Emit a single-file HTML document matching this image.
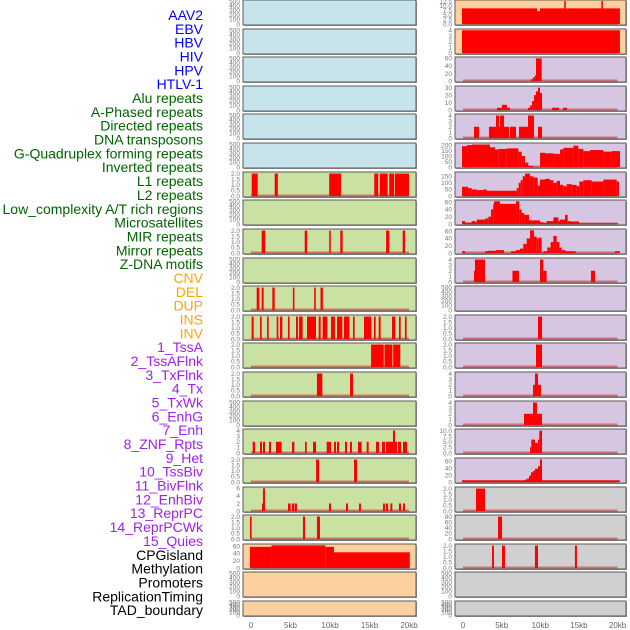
<!DOCTYPE html>
<html><head><meta charset="utf-8"><style>
html,body{margin:0;padding:0;background:#fff;width:630px;height:630px;overflow:hidden}
svg{display:block;font-family:"Liberation Sans",sans-serif}
</style></head><body>
<svg id="chart" width="630" height="630" viewBox="0 0 630 630"></svg>
<script>
// ---------- data ----------
const trackLabels = ["AAV2","EBV","HBV","HIV","HPV","HTLV-1","Alu repeats","A-Phased repeats","Directed repeats","DNA transposons","G-Quadruplex forming repeats","Inverted repeats","L1 repeats","L2 repeats","Low_complexity A/T rich regions","Microsatellites","MIR repeats","Mirror repeats","Z-DNA motifs","CNV","DEL","DUP","INS","INV","1_TssA","2_TssAFlnk","3_TxFlnk","4_Tx","5_TxWk","6_EnhG","7_Enh","8_ZNF_Rpts","9_Het","10_TssBiv","11_BivFlnk","12_EnhBiv","13_ReprPC","14_ReprPCWk","15_Quies","CPGisland","Methylation","Promoters","ReplicationTiming","TAD_boundary"];
const labelGroups = ["v","v","v","v","v","v","r","r","r","r","r","r","r","r","r","r","r","r","r","c","c","c","c","c","s","s","s","s","s","s","s","s","s","s","s","s","s","s","s","o","o","o","o","o"];
const xTickValues = [0,5,10,15,20];
const xTickLabels = ["0","5kb","10kb","15kb","20kb"];

// segments: [startKb, endKb, value]
const L6 = [[0.09,0.85,2],[3.0,3.4,2],[9.9,11.4,2],[15.6,16.1,2],[16.3,17.3,2],[17.5,18.1,2],[18.2,20.0,2]];
const L8 = [[1.35,1.8,2],[6.8,7.1,2],[9.9,10.1,2],[11.3,11.6,2],[17.1,17.5,2],[19.2,19.5,2]];
const L10 = [[0.72,1.05,2],[1.35,1.6,2],[2.7,3.0,2],[5.3,5.5,2],[8.0,8.2,2],[8.8,9.1,2]];
const L11 = [[0.08,0.34,2],[1.14,1.35,2],[2.03,2.24,2],[3.25,3.46,2],[3.67,3.97,2],[4.68,4.89,2],[5.70,5.95,2],[6.08,6.54,2],[7.09,8.23,2],[8.57,8.82,2],[9.07,9.66,2],[10.13,10.63,2],[10.89,11.56,2],[11.77,12.45,2],[12.91,13.12,2],[14.30,15.23,2],[15.57,15.78,2],[16.16,16.41,2],[17.85,18.27,2],[18.73,18.95,2],[19.49,19.70,2]];
const L12 = [[15.2,16.8,2],[16.9,17.9,2],[18.0,18.9,2]];
const L13 = [[8.35,9.03,2],[12.53,12.91,2]];
const L15 = [[0.21,0.51,2],[1.14,1.39,2],[1.52,1.77,2],[2.28,2.53,2],[3.16,3.88,2],[5.19,5.49,2],[6.84,7.05,2],[7.85,8.23,2],[9.58,10.13,2],[10.51,10.76,2],[10.89,11.14,2],[11.90,12.15,2],[12.53,12.78,2],[13.54,14.01,2],[14.64,14.89,2],[15.82,16.20,2],[16.58,16.96,2],[17.09,17.97,2],[17.97,18.23,4],[18.23,18.48,2],[18.61,18.99,2],[19.24,19.75,2]];
const L16 = [[8.23,8.61,2],[13.04,13.42,2]];
const L17 = [[1.39,1.52,2],[1.52,1.77,6],[4.68,5.02,2],[5.19,5.49,2],[5.57,5.82,2],[9.87,10.13,2],[12.02,12.28,2],[13.67,13.92,2],[16.71,16.96,2],[17.09,17.34,2],[17.64,17.89,2],[18.73,18.99,2],[19.24,19.49,2]];
const L18 = [[-0.13,0.08,2],[6.58,6.84,2],[8.35,8.73,2]];
const L19 = [[-0.13,2.6,58],[2.6,9.4,62],[9.4,10.5,58],[10.5,20.1,43]];

const R0 = [[-0.13,9.57,8.5],[9.57,9.96,7],[9.96,20.3,8.5],[13.1,13.3,12.5],[17.9,18.1,12.5]];
const R1 = [[-0.13,20.3,4]];
const R2 = [[8.80,9.06,5],[9.06,9.31,10],[9.31,9.44,15],[9.44,10.18,60]];
const R3 = [[4.40,5.04,3],[5.04,5.69,7],[5.69,6.08,3],[8.41,8.67,3],[8.67,8.93,6],[8.93,9.18,12],[9.18,9.44,20],[9.44,9.70,25],[9.70,9.96,30],[9.96,10.22,23],[11.52,12.42,3],[12.94,13.45,3]];
const R4 = [[1.42,2.07,2],[3.36,4.27,2],[4.27,4.66,4],[4.66,4.79,2],[4.79,5.30,4],[5.30,5.95,2],[6.08,6.86,2],[7.24,8.41,2],[8.41,9.18,4],[9.70,10.22,2]];
const R5 = [[-0.13,0.52,190],[0.52,1.16,200],[1.16,3.49,205],[3.49,4.14,180],[4.14,4.57,160],[4.57,5.65,165],[5.65,7.16,170],[7.16,7.59,140],[7.59,8.02,100],[8.02,8.45,40],[8.45,9.1,10],[9.96,10.61,130],[10.61,11.69,125],[11.69,12.55,120],[12.55,12.98,160],[12.98,14.28,175],[14.28,14.92,195],[14.92,15.57,165],[15.57,16.43,145],[16.43,18.16,155],[18.16,19.23,140],[19.23,20.31,145]];
const R6 = [[-0.13,0.66,70],[0.66,1.12,60],[1.12,1.77,50],[1.77,2.63,45],[2.63,3.06,50],[3.06,6.94,40],[6.94,7.2,60],[7.2,7.46,100],[7.46,7.72,120],[7.72,8.02,150],[8.02,8.67,170],[8.67,9.1,150],[9.1,9.66,140],[9.66,9.96,80],[9.96,10.61,125],[10.61,11.26,130],[11.26,11.69,120],[11.69,12.12,100],[12.12,12.55,115],[12.55,12.98,85],[12.98,13.41,75],[13.41,14.06,90],[14.06,14.71,85],[14.71,15.05,75],[15.05,15.57,110],[15.57,16.65,120],[16.65,18.16,110],[18.16,19.88,125],[19.88,20.18,110]];
const R7 = [[-0.13,0.26,8],[0.26,1.12,4],[1.12,1.55,8],[1.55,1.77,6],[1.77,2.85,12],[2.85,3.28,15],[3.28,3.62,20],[3.62,3.92,40],[3.92,4.01,55],[4.01,4.79,62],[4.79,6.86,55],[6.86,7.29,62],[7.29,7.59,40],[7.59,7.93,30],[7.93,8.54,25],[8.54,9.1,10],[9.1,9.96,10],[9.96,10.39,5],[10.39,10.82,3],[10.82,11.26,8],[11.26,11.69,8],[11.69,12.34,18],[12.34,12.55,8],[12.55,13.2,12],[13.2,13.54,25],[13.54,13.84,8],[13.84,15.0,7],[15.0,20.1,2]];
const R8 = [[-0.13,0.26,5],[2.85,3.23,5],[3.23,4.27,6],[4.27,5.30,8],[6.21,6.86,5],[6.86,7.37,8],[7.37,7.8,12],[7.8,8.24,25],[8.24,8.67,40],[8.67,9.18,62],[9.18,9.53,45],[9.53,9.74,40],[9.74,10.18,42],[10.39,10.91,5],[10.91,11.34,15],[11.34,11.69,30],[11.69,12.12,47],[12.12,12.47,30],[12.47,12.77,15],[12.77,13.2,8],[13.2,14.58,5],[19.66,20.31,5]];
const R9 = [[1.42,1.55,2],[1.55,2.85,4],[6.4,7.24,2],[9.96,10.39,4],[10.39,10.82,2],[16.56,17.08,2]];
const R11 = [[9.70,10.22,2]];
const R12 = [[9.44,10.22,2]];
const R13 = [[9.06,9.31,2],[9.31,9.70,4],[9.70,10.09,2]];
const R14 = [[7.89,9.06,2],[9.06,9.57,4],[9.57,10.22,2]];
const R15 = [[8.67,8.84,2.5],[8.84,9.31,6],[9.31,9.70,4.5],[9.70,9.87,6],[9.87,10.22,10]];
const R16 = [[-0.13,8.02,5],[8.02,8.28,7],[8.28,8.54,10],[8.54,8.8,18],[8.8,9.06,28],[9.06,9.31,32],[9.31,9.70,38],[9.70,9.96,45],[9.96,10.22,65],[10.22,20.3,5]];
const R17 = [[1.68,2.85,2]];
const R18 = [[4.53,5.04,80]];
const R19 = [[3.75,4.0,2],[5.04,5.43,2],[9.31,9.7,2],[14.48,14.74,2]];

const T500 = [0,100,200,300,400,500];
const T2 = [0,0.5,1,1.5,2];
const T4 = [0,1,2,3,4];
const T60 = [0,20,40,60];
const leftPanels = [
 [null,T500,500,"#c7e4ec"],[null,T500,500,"#c7e4ec"],[null,T500,500,"#c7e4ec"],[null,T500,500,"#c7e4ec"],[null,T500,500,"#c7e4ec"],[null,T500,500,"#c7e4ec"],
 [L6,T2,2.05,"#c9e1a3"],[null,T500,500,"#c9e1a3"],[L8,T2,2.05,"#c9e1a3"],[null,T500,500,"#c9e1a3"],[L10,T2,2.05,"#c9e1a3"],[L11,T2,2.05,"#c9e1a3"],[L12,T2,2.05,"#c9e1a3"],[L13,T2,2.05,"#c9e1a3"],[null,T500,500,"#c9e1a3"],[L15,T4,4.1,"#c9e1a3"],[L16,T2,2.05,"#c9e1a3"],[L17,[0,2,4,6],6.1,"#c9e1a3"],[L18,T2,2.05,"#c9e1a3"],
 [L19,T60,63,"#fdd0a0"],[null,T500,500,"#fdd0a0"],[null,T500,500,"#fdd0a0"]
];
const rightPanels = [
 [R0,[0,2.5,5,7.5,10,12.5],12.5,"#fdd0a0"],[R1,T4,4.05,"#fdd0a0"],
 [R2,T60,61,"#d6c6e2"],[R3,[0,10,20,30],31,"#d6c6e2"],[R4,T4,4.1,"#d6c6e2"],[R5,[0,50,100,150,200],210,"#d6c6e2"],[R6,[0,50,100,150],175,"#d6c6e2"],[R7,T60,63,"#d6c6e2"],[R8,T60,63,"#d6c6e2"],[R9,T4,4.1,"#d6c6e2"],[null,T500,500,"#d6c6e2"],[R11,T2,2.05,"#d6c6e2"],[R12,T2,2.05,"#d6c6e2"],[R13,T4,4.1,"#d6c6e2"],[R14,T4,4.1,"#d6c6e2"],[R15,[0,2.5,5,7.5,10],10.3,"#d6c6e2"],[R16,T60,66,"#d6c6e2"],
 [R17,T2,2.05,"#d0d0d0"],[R18,[0,20,40,60,80],82,"#d0d0d0"],[R19,T2,2.05,"#d0d0d0"],[null,T500,500,"#d0d0d0"],[null,T500,500,"#d0d0d0"]
];

// ---------- drawing ----------
const NS = "http://www.w3.org/2000/svg";
const svg = document.getElementById("chart");
function mk(tag, attrs, parent){const e=document.createElementNS(NS,tag);for(const k in attrs)e.setAttribute(k,attrs[k]);(parent||svg).appendChild(e);return e;}
const groupColor = {v:"#0000ff",r:"#006400",c:"#ffa500",s:"#a020f0",o:"#000000"};

trackLabels.forEach((t,i)=>{
  const el = mk("text",{x:203,y:(15+i*13.84+5).toFixed(1),"text-anchor":"end","font-size":"14",fill:groupColor[labelGroups[i]]});
  el.textContent = t;
  
  
});

const rowTops = [];
for(let i=0;i<22;i++) rowTops.push(Math.round(i*28.62));
const cols = [
  {x0:243,x1:416,zx:251,k:7.9,panels:leftPanels,tx:240,name:"left"},
  {x0:455,x1:626,zx:463,k:7.73,panels:rightPanels,tx:452,name:"right"}
];
cols.forEach(c=>{
  const xs = kb=>c.zx+kb*c.k;
  c.panels.forEach((p,i)=>{
    const [segs,ticks,ymax,fill]=p;
    const top=rowTops[i], h=(i===21)?15:25, bot=top+h;
    const ys = v=>(bot-1)-v/ymax*(h-2);
    const g = mk("g",{});
    
    
    mk("rect",{x:c.x0+1,y:top+1,width:c.x1-c.x0,height:h,fill:"#999"},g);
    mk("rect",{x:c.x0,y:top,width:c.x1-c.x0,height:h,fill:fill,stroke:"#5a5a5a","stroke-width":1},g);
    if(segs){
      mk("rect",{x:xs(0),y:bot-2.5,width:xs(20)-xs(0),height:2,fill:"rgba(200,40,40,0.55)"},g);
      segs.forEach(s=>{
        const b = mk("rect",{x:xs(s[0]).toFixed(2),y:ys(s[2]).toFixed(2),width:Math.max(1,xs(s[1])-xs(s[0])).toFixed(2),height:(ys(0)-ys(s[2])).toFixed(2),fill:"#ff0000"},g);
        
        
      });
    }
    ticks.forEach(t=>{
      const tt = mk("text",{x:c.tx,y:(ys(t)+2.3).toFixed(1),"text-anchor":"end","font-size":"6.5",fill:"#777"},g);
      tt.textContent = String(t===0?0:(ticks.includes(2.5)||ticks.includes(0.5))?t.toFixed(1):t);
      if(ticks.includes(2.5)||ticks.includes(0.5)) tt.textContent = t.toFixed(1);
      
      
    });
  });
  xTickValues.forEach((v,j)=>{
    const t = mk("text",{x:xs(v),y:628,"text-anchor":"middle","font-size":"8",fill:"#666"});
    t.textContent = xTickLabels[j];
    
    
  });
});
</script>
</body></html>
